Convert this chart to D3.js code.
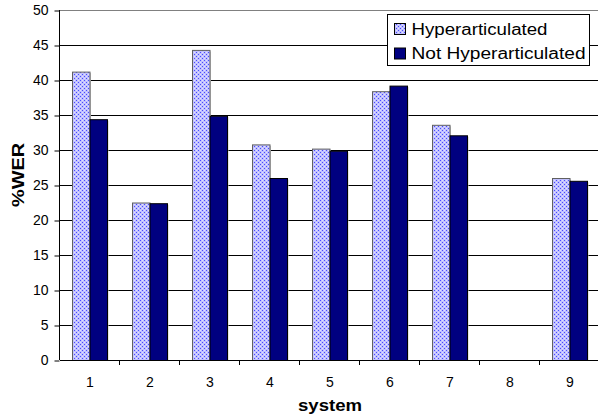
<!DOCTYPE html>
<html><head><meta charset="utf-8">
<script src="https://cdn.jsdelivr.net/npm/d3@7"></script>
<style>body{margin:0;background:#fff}svg{display:block;font-family:"Liberation Sans",Arial,sans-serif}</style>
</head><body><svg id="c" width="598" height="417"></svg>
<script>
const categories = ["1","2","3","4","5","6","7","8","9"];
const seriesNames = ["Hyperarticulated","Not Hyperarticulated"];
const hyper = [41.2, 22.5, 44.3, 30.8, 30.2, 38.4, 33.6, null, 26.0];
const notHyper = [34.4, 22.4, 34.9, 26.0, 29.9, 39.2, 32.1, null, 25.6];
const yTicks = [0,5,10,15,20,25,30,35,40,45,50];

const svg = d3.select("#c");
const m = {l:60, t:10, r:600, b:360};
const x = d3.scaleBand().domain(categories).range([m.l, m.r]).padding(0);
const y = d3.scaleLinear().domain([0,50]).range([m.b, m.t]);

const defs = svg.append("defs");
const pat = defs.append("pattern").attr("id","dots").attr("patternUnits","userSpaceOnUse").attr("width",4).attr("height",4);
pat.append("rect").attr("width",4).attr("height",4).attr("fill","#c0c0ff");
pat.append("rect").attr("x",0).attr("y",0).attr("width",1).attr("height",1).attr("fill","#4a4aff");
pat.append("rect").attr("x",2).attr("y",2).attr("width",1).attr("height",1).attr("fill","#4a4aff");
pat.append("rect").attr("x",2).attr("y",0).attr("width",1).attr("height",1).attr("fill","#e0e0ff");
pat.append("rect").attr("x",0).attr("y",2).attr("width",1).attr("height",1).attr("fill","#e0e0ff");

// gridlines
svg.append("g").selectAll("line").data(yTicks.filter(d=>d>0)).join("line")
  .attr("x1", m.l).attr("x2", m.r).attr("y1", d=>y(d)+0.5).attr("y2", d=>y(d)+0.5)
  .attr("stroke", d=> d===50 ? "#808080" : "#000").attr("stroke-width",1);

const inner = d3.scaleBand().domain(seriesNames).range([0, 35]);
const off = 12;
const groups = [hyper, notHyper];
groups.forEach((vals, si) => {
  const g = svg.append("g");
  const data = categories.map((c,i)=>({c, v: vals[i]})).filter(d=>d.v!=null);
  g.selectAll("rect.sh").data(data).join("rect").attr("class","sh")
    .attr("x", d=>x(d.c)+off+inner(seriesNames[si])+1.5)
    .attr("y", d=>y(d.v)+1.5)
    .attr("width", inner.bandwidth())
    .attr("height", d=>y(0)-y(d.v)-1.5)
    .attr("fill","#c8c8c8");
  g.selectAll("rect.b").data(data).join("rect").attr("class","b")
    .attr("x", d=>x(d.c)+off+inner(seriesNames[si])+0.5)
    .attr("y", d=>y(d.v)+0.5)
    .attr("width", inner.bandwidth())
    .attr("height", d=>y(0)-y(d.v))
    .attr("fill", si===0 ? "url(#dots)" : "#000080")
    .attr("stroke", si===0 ? "#606060" : "#000").attr("stroke-width",1);
});

// axes
const ya = svg.append("g").attr("transform",`translate(${m.l-0.5},0)`)
  .call(d3.axisLeft(y).tickValues(yTicks).tickSize(5).tickPadding(6));
ya.select(".domain").attr("stroke","#000").attr("d",`M0,${m.t}V${m.b}`);
ya.selectAll("text").attr("font-size",14).attr("fill","#000").attr("font-family","Liberation Sans, Arial, sans-serif");
ya.selectAll(".tick line").attr("stroke","#000").attr("transform","translate(0,0.5)");

const xa = svg.append("g").attr("transform",`translate(0,${m.b+0.5})`)
  .call(d3.axisBottom(x).tickSize(0).tickPadding(17));
xa.select(".domain").attr("stroke","#000").attr("d",`M${m.l},0H${m.r}`);
xa.selectAll("text").attr("font-size",14).attr("fill","#000").attr("font-family","Liberation Sans, Arial, sans-serif");
svg.append("g").selectAll("line").data(categories.slice(1)).join("line")
  .attr("x1", d=>x(d)-0.5).attr("x2", d=>x(d)-0.5).attr("y1", m.b).attr("y2", m.b+5)
  .attr("stroke","#000");

svg.append("text").attr("x",330).attr("y",410.5).attr("text-anchor","middle")
  .attr("font-size",16).attr("font-weight","bold")
  .attr("textLength",64).attr("lengthAdjust","spacingAndGlyphs").text("system");
svg.append("text").attr("transform","translate(24,175) rotate(-90)").attr("text-anchor","middle")
  .attr("font-size",16).attr("font-weight","bold")
  .attr("textLength",64).attr("lengthAdjust","spacingAndGlyphs").text("%WER");

// legend
const legendLens = [136, 174];
const lg = svg.append("g");
lg.append("rect").attr("x",387.5).attr("y",14.5).attr("width",202).attr("height",51)
  .attr("fill","#fff").attr("stroke","#000");
seriesNames.forEach((n,i)=>{
  const yy = 23 + i*24.5;
  lg.append("rect").attr("x",394.5).attr("y",yy+0.5).attr("width",11).attr("height",11)
    .attr("fill", i===0 ? "url(#dots)" : "#000080").attr("stroke","#000");
  lg.append("text").attr("x",411.5).attr("y",yy+11.5).attr("font-size",16)
    .attr("textLength",legendLens[i]).attr("lengthAdjust","spacingAndGlyphs").text(n);
});
</script></body></html>
